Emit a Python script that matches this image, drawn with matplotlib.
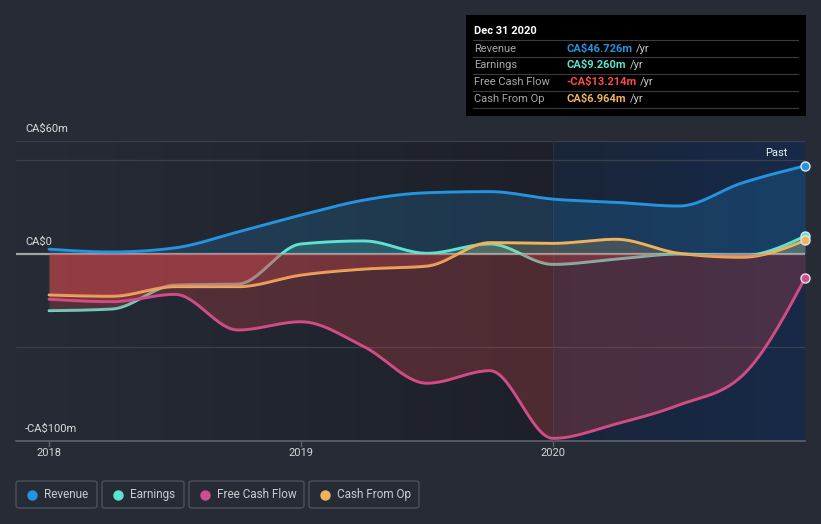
import numpy as np
import matplotlib
matplotlib.use("Agg")
import matplotlib.pyplot as plt
from matplotlib.patches import FancyBboxPatch, Rectangle
from matplotlib.lines import Line2D

plt.rcParams['font.family'] = ['Roboto', 'DejaVu Sans']

# quarterly points, Dec 2017 .. Dec 2020 (values in CA$m)
quarters = [2018.0, 2018.25, 2018.5, 2018.75, 2019.0, 2019.25, 2019.5,
            2019.75, 2020.0, 2020.25, 2020.5, 2020.75, 2021.0]
revenue = [2.3, 0.8, 3.0, 11.5, 20.5, 28.5, 32.4, 33.0, 29.0, 27.3, 25.3, 37.6, 46.726]
earnings = [-30.5, -29.6, -16.8, -16.3, 5.1, 6.7, 0.1, 5.1, -5.8, -3.0, -0.3, -1.2, 9.260]
free_cash_flow = [-24.4, -25.7, -21.8, -40.8, -36.4, -49.7, -69.2, -62.5, -98.6, -90.9, -80.8, -65.3, -13.214]
cash_from_op = [-22.1, -22.8, -17.7, -17.7, -11.5, -8.3, -6.7, 5.8, 5.4, 7.6, 0.1, -2.0, 6.964]

series_names = ["Revenue", "Earnings", "Free Cash Flow", "Cash From Op"]
series_values = [revenue, earnings, free_cash_flow, cash_from_op]
series_colors = ["#2394df", "#5de3cf", "#d04d90", "#eeb35c"]
tooltip_colors = ["#2394df", "#5de3cf", "#ff4a4a", "#eeb35c"]
tooltip_values = ["CA$46.726m", "CA$9.260m", "-CA$13.214m", "CA$6.964m"]

year_ticks = [2018, 2019, 2020]
y_labels = {60: "CA$60m", 0: "CA$0", -100: "-CA$100m"}

BG = "#262b36"
W, H = 821, 524


def fx(px):
    return px / W


def fy(py):
    return 1 - py / H


def monotone(x, y, n=30):
    # d3 style monotoneX curve
    x = np.asarray(x, float)
    y = np.asarray(y, float)
    h = np.diff(x)
    s = np.diff(y) / h
    m = np.zeros(len(x))
    for k in range(1, len(x) - 1):
        p = (s[k - 1] * h[k] + s[k] * h[k - 1]) / (h[k - 1] + h[k])
        m[k] = (np.sign(s[k - 1]) + np.sign(s[k])) * min(abs(s[k - 1]), abs(s[k]), 0.5 * abs(p))
    m[0] = (3 * s[0] - m[1]) / 2
    m[-1] = (3 * s[-1] - m[-2]) / 2
    xs, ys = [], []
    for k in range(len(x) - 1):
        t = np.linspace(0, 1, n, endpoint=False)
        h00 = 2 * t**3 - 3 * t**2 + 1
        h10 = t**3 - 2 * t**2 + t
        h01 = -2 * t**3 + 3 * t**2
        h11 = t**3 - t**2
        xs.append(x[k] + t * h[k])
        ys.append(h00 * y[k] + h10 * h[k] * m[k] + h01 * y[k + 1] + h11 * h[k] * m[k + 1])
    xs.append([x[-1]])
    ys.append([y[-1]])
    return np.concatenate(xs), np.concatenate(ys)


fig = plt.figure(figsize=(8.21, 5.24), dpi=100)
fig.patch.set_facecolor(BG)

x0 = 2018 + (16 - 49) / 252
ax = fig.add_axes([fx(16), fy(441), fx(805) - fx(16), fy(141) - fy(441)])
ax.axis("off")

# background gradients
left = np.array([[38, 43, 54], [29, 32, 40]]) / 255
grad = np.linspace(0, 1, 200)[None, :, None]
img = left[0] + (left[1] - left[0]) * grad
ax.imshow(img, extent=[x0, 2020.0, -100, 60], aspect="auto", zorder=0)
right = np.array([[26, 37, 57], [23, 42, 72]]) / 255
img2 = right[0] + (right[1] - right[0]) * grad
ax.imshow(img2, extent=[2020.0, 2021.0, -100, 60], aspect="auto", zorder=0)
ax.set_xlim(x0, 2021.0)
ax.set_ylim(-100, 60)

# grid
for v in [60, 50, -50]:
    ax.axhline(v, color="#3a404c", lw=0.9, zorder=1)
ax.axhline(-100, color="#5c626e", lw=1.2, zorder=1, clip_on=False)
ax.axvline(2020.0, color="#262e44", lw=0.9, zorder=1)
ax.axhline(0, color="#a3a3a3", lw=1.6, zorder=1)

for yr in year_ticks:
    ax.plot([yr, yr], [-100, -102.5], color="#5c626e", lw=1, clip_on=False)
    ax.text(yr, -106.5, str(yr), color="#d6d6d6", fontsize=8, ha="center", va="center")

for v, lab in y_labels.items():
    ax.text(x0 + 9 / 252, v + 6.2, lab, color="#dcdcdc", fontsize=8, ha="left", va="center")

ax.text(2020.93, 53.5, "Past", color="#f0f0f0", fontsize=8, ha="right", va="center")

# series: line then fill, so later fills tint earlier lines
z = 2
for name, vals, col in zip(series_names, series_values, series_colors):
    xs, ys = monotone(quarters, vals)
    ax.plot(xs, ys, color=col, lw=2.1, zorder=z, solid_capstyle="round")
    ax.fill_between(xs, np.maximum(ys, 0), 0, color=col, alpha=0.2, lw=0, zorder=z + 1)
    ax.fill_between(xs, np.minimum(ys, 0), 0, color="#e34a4f", alpha=0.25, lw=0, zorder=z + 1)
    z += 2

for vals, col in zip(series_values, series_colors):
    ax.plot(quarters[-1], vals[-1], "o", ms=6.5, mfc=col, mec="#dfe6ee", mew=1,
            zorder=20, clip_on=False)

# tooltip
fig.patches.append(Rectangle((fx(466), fy(116)), fx(806) - fx(466), fy(15) - fy(116),
                             transform=fig.transFigure, facecolor="#000000", edgecolor="none"))
fig.text(fx(474), fy(31), "Dec 31 2020", color="white", fontsize=8, fontweight="bold", va="center")
for sy in [40.3, 57.3, 74.3, 91.3, 108.3]:
    fig.lines.append(Line2D([fx(473), fx(798)], [fy(sy), fy(sy)], transform=fig.transFigure,
                            color="#3c3c3c", lw=0.8))
renderer = fig.canvas.get_renderer()
for i, (name, val, col) in enumerate(zip(series_names, tooltip_values, tooltip_colors)):
    yy = fy(48.5 + i * 16.9)
    fig.text(fx(474), yy, name, color="#a8a8a8", fontsize=8, va="center")
    t = fig.text(fx(566), yy, val, color=col, fontsize=8, fontweight="bold", va="center")
    bb = t.get_window_extent(renderer)
    fig.text(bb.x1 / W + fx(4), yy, "/yr", color="#c8c8c8", fontsize=8, va="center")

# legend
boxes = [(16, 97), (102, 184), (189, 304), (309, 419)]
for (bx0, bx1), name, col in zip(boxes, series_names, series_colors):
    fig.patches.append(FancyBboxPatch((fx(bx0), fy(508)), fx(bx1) - fx(bx0), fy(481) - fy(508),
                                      boxstyle="round,pad=0,rounding_size=0.004",
                                      transform=fig.transFigure, facecolor="none",
                                      edgecolor="#4b515d", lw=1))
    fig.lines.append(Line2D([fx(bx0 + 16)], [fy(494.5)], marker="o", ms=6.5, color=col,
                            transform=fig.transFigure, lw=0))
    fig.text(fx(bx0 + 28), fy(494.5), name, color="#c9ccd2", fontsize=8.5, va="center")

fig.savefig("out.png", dpi=100, facecolor=BG)
